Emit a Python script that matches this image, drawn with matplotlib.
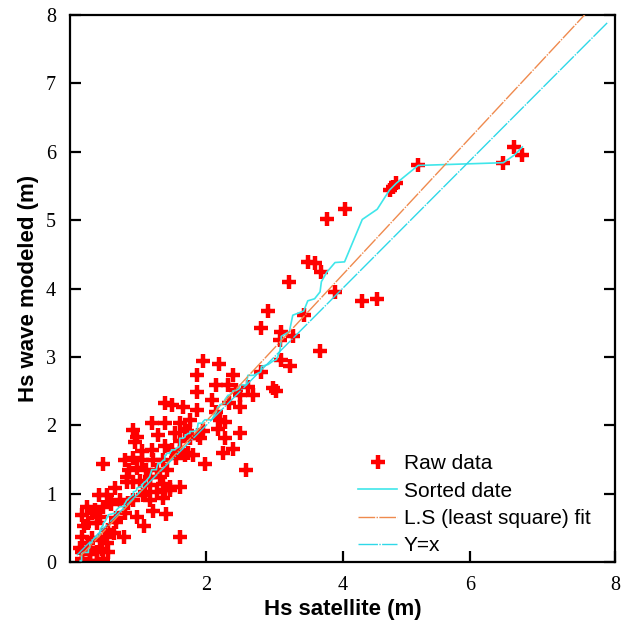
import numpy as np
import matplotlib
matplotlib.use("Agg")
import matplotlib.pyplot as plt

# Hs satellite vs Hs modeled
hs_satellite = [
    0.17, 0.29, 0.39, 0.49,
    0.17, 0.29, 0.39, 0.56,
    0.15, 0.29, 0.47,
    0.27, 0.44, 0.54,
    0.17, 0.32, 0.51, 0.64, 0.79,
    0.20, 0.27, 0.39, 0.56, 0.68, 1.09,
    0.17, 0.33, 0.44, 0.68, 0.80, 0.98, 1.22, 1.41,
    0.25, 0.48, 0.36, 0.60, 0.85, 0.73, 0.93, 1.17, 1.37,
    0.42, 0.54, 0.66, 1.07, 1.10, 1.27, 1.39, 1.47, 1.47, 1.62, 1.17, 1.37, 0.84, 1.03, 0.92,
    1.61,
    0.83, 1.17, 1.32, 0.86, 0.98, 1.12, 1.27, 1.42,
    0.49, 0.81, 0.93, 1.05, 1.22, 1.37, 1.56, 1.69,
    1.20, 1.39, 1.49, 1.61, 1.73, 1.81, 1.98, 1.05,
    0.95, 0.98, 0.93, 1.29, 1.54, 1.71, 1.95, 1.61, 1.76, 1.91,
    1.20, 1.39, 1.61, 1.76, 1.69, 1.39, 1.49, 1.66, 1.86, 1.87, 1.87, 2.08, 2.15,
    1.95, 2.19, 2.39, 2.81, 2.98, 3.03, 2.32, 2.44, 2.61, 2.49, 2.69, 2.34,
    2.49, 2.15, 2.20, 2.27, 2.17, 2.49, 2.27, 2.39, 2.25, 2.59, 1.88,
    2.91, 2.80, 3.10, 3.08, 3.27, 3.43, 3.67, 3.10, 3.23,
    3.22, 3.49, 3.59, 3.69, 3.89, 4.29, 4.51, 3.77, 4.03,
    4.69, 4.74, 4.79, 5.11, 6.36, 6.52, 6.64,
]
hs_modeled = [
    0.04, 0.02, 0.02, 0.04,
    0.14, 0.12, 0.14, 0.14,
    0.21, 0.21, 0.19,
    0.28, 0.32, 0.28,
    0.37, 0.35, 0.37, 0.42, 0.37,
    0.52, 0.57, 0.57, 0.47, 0.59, 0.52,
    0.69, 0.71, 0.66, 0.64, 0.71, 0.66, 0.74, 0.70,
    0.81, 0.81, 0.76, 0.85, 0.86, 0.91, 0.91, 0.90, 0.93,
    0.98, 0.98, 1.08, 0.98, 1.03, 1.03, 1.05, 1.05, 1.10, 1.10, 1.13, 1.14, 1.17, 1.19, 1.17,
    0.37,
    1.25, 1.25, 1.25, 1.35, 1.37, 1.35, 1.35, 1.35,
    1.44, 1.49, 1.52, 1.49, 1.49, 1.49, 1.52, 1.56,
    1.64, 1.69, 1.64, 1.61, 1.59, 1.56, 1.44, 1.62,
    1.76, 1.83, 1.93, 1.86, 1.88, 1.91, 1.91, 1.77, 1.81, 1.81,
    2.03, 2.03, 2.03, 2.08, 1.95, 2.32, 2.30, 2.27, 2.22, 2.49, 2.73, 2.37, 2.59,
    2.94, 2.89, 2.73, 2.78, 2.54, 2.50, 2.59, 2.51, 2.56, 2.44, 2.44, 2.32,
    2.27, 2.20, 2.08, 2.05, 1.95, 1.88, 1.81, 1.66, 1.59, 1.35, 1.86,
    3.67, 3.42, 3.37, 3.25, 3.30, 3.61, 3.08, 2.96, 2.86,
    4.10, 4.39, 4.38, 4.24, 3.95, 3.82, 3.85, 5.01, 5.16,
    5.44, 5.49, 5.54, 5.80, 5.84, 6.07, 5.95,
]

# least-square fit as drawn in the reference
fit_slope = 1.07
fit_intercept = -0.08

y_ticks = [0, 1, 2, 3, 4, 5, 6, 7, 8]
x_ticks = [2, 4, 5.87, 8]
x_tick_labels = ["2", "4", "6", "8"]

x = np.array(hs_satellite)
y = np.array(hs_modeled)

fig = plt.figure(figsize=(6.24, 6.21), dpi=100)
ax = fig.add_axes([0.1122, 0.095, 0.8734, 0.8808])

ax.plot(x, y, linestyle="none", marker="+", color="#ff0000",
        markersize=10, markeredgewidth=3.2, label="Raw data", zorder=2)
ax.plot(np.sort(x), np.sort(y), color="#3fe6ea", lw=1.2,
        label="Sorted date", zorder=3)
xf = np.array([x.min(), 8.0])
ax.plot(xf, fit_slope * xf + fit_intercept, color="#ef8a4e", lw=1.0,
        linestyle=(0, (12, 1, 1, 1)), label="L.S (least square) fit", zorder=3)
xi = np.array([x.min() - 0.05, 7.9])
ax.plot(xi, xi, color="#2fd8e8", lw=1.0, linestyle=(0, (14, 1, 1, 1)),
        label="Y=x", zorder=3)

ax.set_xlim(0, 8)
ax.set_ylim(0, 8)
ax.set_xticks(x_ticks)
ax.set_xticklabels(x_tick_labels)
ax.set_yticks(y_ticks)
ax.set_yticklabels([str(v) for v in y_ticks])

for s in ax.spines.values():
    s.set_linewidth(1.6)
ax.tick_params(axis="both", direction="in", length=8, width=1.6, pad=10,
               labelsize=14.5, labelfontfamily="Liberation Serif")
ax.tick_params(axis="y", right=True)

ax.set_xlabel("Hs satellite (m)", fontsize=16, fontweight="bold",
              family="Liberation Sans", labelpad=3)
ax.set_ylabel("Hs wave modeled (m)", fontsize=16, fontweight="bold",
              family="Liberation Sans", labelpad=5)

ax.legend(loc="lower left", bbox_to_anchor=(0.528, 0.012), frameon=False,
          borderpad=0, borderaxespad=0, handlelength=1.9, handletextpad=0.3,
          labelspacing=0.4, numpoints=1,
          prop={"family": "Liberation Sans", "size": 15})

fig.savefig("out.png", dpi=100)
plt.close(fig)
